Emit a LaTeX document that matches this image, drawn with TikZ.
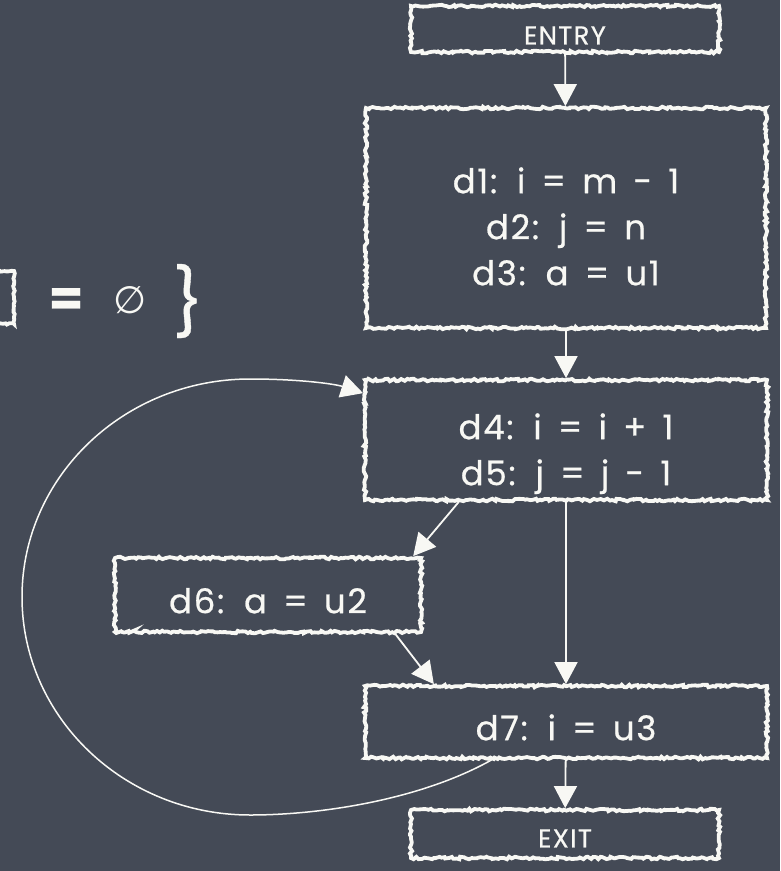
\documentclass[tikz,border=0pt]{standalone}
\usepackage{fontspec}
\setmainfont{Poppins}[LetterSpace=5.0, WordSpace=1.5, FakeBold=0.6]
\newfontfamily\symfont{DejaVu Sans}
\usetikzlibrary{arrows.meta,decorations.pathmorphing}
\definecolor{board}{RGB}{68,74,86}
\definecolor{chalk}{RGB}{248,248,244}
\newcommand\lowtext[2]{\raisebox{#1}[\height][\depth]{\begin{tabular}{@{}c@{}}#2\end{tabular}}}
\tikzset{
  chalkbox/.style={draw=chalk, line width=3.8pt, decorate,
    decoration={random steps,segment length=2.5pt,amplitude=1.3pt},
    text=chalk, inner sep=0pt,
    font=\fontsize{34}{46}\selectfont},
  smallbox/.style={chalkbox, font=\fontsize{26}{24}\selectfont},
  flow/.style={draw=chalk, line width=1.8pt, -{Triangle[width=23pt,length=22pt]}},
  chalktext/.style={text=chalk, inner sep=0pt},
}
\begin{document}
\begin{tikzpicture}[x=1pt,y=-1pt]
\useasboundingbox (0,0) rectangle (780,871);
\fill[board] (0,0) rectangle (780,871);
\clip (0,0) rectangle (780,871);

% nodes
\node[smallbox, minimum width=308pt, minimum height=46pt] (entry) at (565,29) {\lowtext{-10pt}{ENTRY}};
\node[chalkbox, minimum width=400pt, minimum height=220pt] (b1) at (566,218)
  {\lowtext{-12pt}{d1: i = m - 1\\d2: j = n\\d3: a = u1}};
\node[chalkbox, minimum width=402pt, minimum height=120pt] (b2) at (566,440)
  {\lowtext{-13pt}{d4: i = i + 1\\d5: j = j - 1}};
\node[chalkbox, minimum width=306pt, minimum height=74pt] (b3) at (268,595) {\lowtext{-9pt}{d6: a = u2}};
\node[chalkbox, minimum width=402pt, minimum height=72pt] (b4) at (566,722) {\lowtext{-9pt}{d7: i = u3}};
\node[smallbox, minimum width=308pt, minimum height=48pt] (exit) at (565,834) {\lowtext{-8pt}{EXIT}};

% connectors
\draw[flow] (entry) -- (b1);
\draw[flow] (b1) -- (b2);
\draw[flow] (b2.south) -- (b4.north);
\draw[flow] (b2.210) -- (b3.15);
\draw[flow] (b3.-17) -- (b4.164);
\draw[flow] (b4) -- (exit);
\draw[flow, line width=1.5pt] (b4.207) .. controls (420,800) and (320,815) .. (250,815)
  .. controls (124,815) and (22,717) .. (22,597)
  .. controls (22,477) and (124,379) .. (250,379)
  .. controls (300,379) and (335,384) .. (b2.167);

% partial formula at the left edge
\draw[chalk, line width=3.8pt, decorate, decoration={random steps,segment length=2.5pt,amplitude=0.8pt}]
  (-30,271) rectangle (14,324);
\node[chalktext, font=\fontsize{50}{50}\selectfont\bfseries] (eq) at (66,302) {=};
\node[chalktext, font=\symfont\fontsize{38}{38}\selectfont] (empty) at (130,300) {∅};
\node[chalktext, font=\fontsize{66}{66}\selectfont] (brace) at (188,301) {\}};
\end{tikzpicture}
\end{document}
